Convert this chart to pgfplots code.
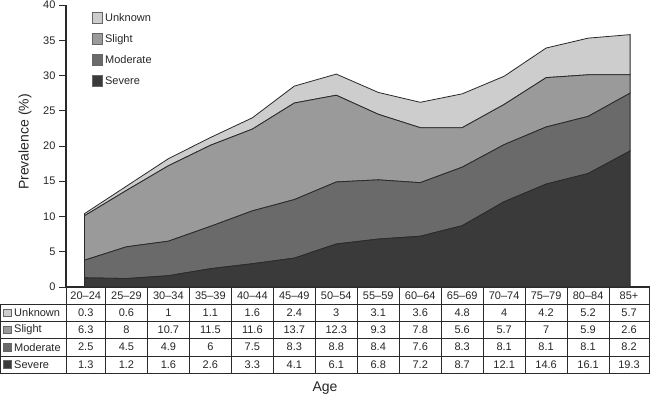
\documentclass[border=0pt]{standalone}
\usepackage{fontspec}
\setmainfont{Liberation Sans}
\usepackage{pgfplots}
\usepackage{pgfplotstable}
\pgfplotsset{compat=1.18}
\definecolor{cUnk}{HTML}{CDCDCD}
\definecolor{cSli}{HTML}{9A9A9A}
\definecolor{cMod}{HTML}{6A6A6A}
\definecolor{cSev}{HTML}{3A3A3A}
\definecolor{edge}{HTML}{2A2A2A}
\newcommand\tf{\fontsize{11}{13}\selectfont}

\pgfplotstableread{
x Severe Moderate Slight Unknown
0 1.3 2.5 6.3 0.3
1 1.2 4.5 8 0.6
2 1.6 4.9 10.7 1
3 2.6 6 11.5 1.1
4 3.3 7.5 11.6 1.6
5 4.1 8.3 13.7 2.4
6 6.1 8.8 12.3 3
7 6.8 8.4 9.3 3.1
8 7.2 7.6 7.8 3.6
9 8.7 8.3 5.6 4.8
10 12.1 8.1 5.7 4
11 14.6 8.1 7 4.2
12 16.1 8.1 5.9 5.2
13 19.3 8.2 2.6 5.7
}\data

\begin{document}
\begin{tikzpicture}[x=1pt,y=1pt]
\useasboundingbox (0,0) rectangle (650,397);
\begin{axis}[
  at={(66pt,110pt)}, anchor=south west,
  scale only axis, width=583pt, height=282pt,
  xmin=-0.44, xmax=13.45, ymin=0, ymax=40,
  axis x line=bottom, axis y line=left,
  axis line style={-, line width=1.2pt, color=edge},
  ytick={0,5,...,40}, xtick=\empty,
  tick align=outside, major tick length=7pt,
  tick style={line width=0.8pt, color=edge},
  ticklabel style={font=\tf, text=black!85},
  /pgf/number format/assume math mode=true,
  stack plots=y,
  legend style={at={(0.044,0.978)}, anchor=north west, draw=none, fill=none,
    font=\tf, text=black!85, row sep=7.5pt, inner sep=0pt},
  legend cell align=left, reverse legend,
  legend image code/.code={\draw[#1, draw=black!60, line width=0.8pt] (0pt,-5pt) rectangle (10.5pt,5.5pt);},
]
\addplot[fill=cSev, draw=edge, line width=0.8pt] table[x=x,y=Severe]{\data} \closedcycle;
\addlegendentry{Severe}
\addplot[fill=cMod, draw=edge, line width=0.8pt] table[x=x,y=Moderate]{\data} \closedcycle;
\addlegendentry{Moderate}
\addplot[fill=cSli, draw=edge, line width=0.8pt] table[x=x,y=Slight]{\data} \closedcycle;
\addlegendentry{Slight}
\addplot[fill=cUnk, draw=edge, line width=0.8pt] table[x=x,y=Unknown]{\data} \closedcycle;
\addlegendentry{Unknown}
\end{axis}

% data table
\begin{scope}[edge, line width=0.8pt]
\draw (0,{397-304}) rectangle (649,{397-373});
\draw (0,{397-321}) -- (649,{397-321});
\draw (0,{397-338.5}) -- (649,{397-338.5});
\draw (0,{397-356}) -- (649,{397-356});
\draw (66,{397-286}) -- (66,{397-373});
\draw (649,{397-286}) -- (649,{397-373});
\end{scope}

\foreach \lab/\col [count=\r from 0] in {Unknown/cUnk,Slight/cSli,Moderate/cMod,Severe/cSev} {
  \pgfmathsetmacro\yc{397-(312.6+17.3*\r)}
  \draw[fill=\col, draw=black!60, line width=0.6pt] (3.5,\yc-3.8) rectangle (11,\yc+3.8);
  \node[anchor=west, inner sep=0pt, font=\tf, text=black!85] at (14,\yc) {\lab};
}

\foreach \lab [count=\n from 0] in {20–24,25–29,30–34,35–39,40–44,45–49,50–54,55–59,60–64,65–69,70–74,75–79,80–84,85+} {
  \pgfmathsetmacro\xl{max(66,66+41.97*(\n-0.06))}
  \pgfmathsetmacro\xr{min(649,66+41.97*(\n+0.94))}
  \pgfmathsetmacro\xc{(\xl+\xr)/2}
  \draw[edge, line width=0.8pt] (\xr,{397-286}) -- (\xr,{397-373});
  \node[font=\tf, text=black!85] at (\xc,{397-295.5}) {\lab};
  \pgfplotstablegetelem{\n}{Unknown}\of\data
  \node[font=\tf, text=black!85] at (\xc,{397-312.6}) {\pgfplotsretval};
  \pgfplotstablegetelem{\n}{Slight}\of\data
  \node[font=\tf, text=black!85] at (\xc,{397-329.9}) {\pgfplotsretval};
  \pgfplotstablegetelem{\n}{Moderate}\of\data
  \node[font=\tf, text=black!85] at (\xc,{397-347.2}) {\pgfplotsretval};
  \pgfplotstablegetelem{\n}{Severe}\of\data
  \node[font=\tf, text=black!85] at (\xc,{397-364.5}) {\pgfplotsretval};
}

\node[rotate=90, font=\fontsize{14}{16}\selectfont, text=black!85] at (25,255) {Prevalence (\%)};
\node[font=\fontsize{14}{16}\selectfont, text=black!85] at (325,9) {Age};
\end{tikzpicture}
\end{document}
